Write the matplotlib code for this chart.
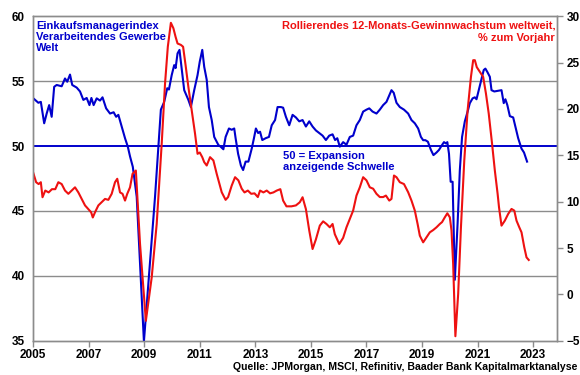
import numpy as np
import matplotlib.pyplot as plt

plt.rcParams['font.family'] = ['Liberation Sans', 'DejaVu Sans']

# Einkaufsmanagerindex (linke Achse), Zeit in Dezimaljahren
pmi_t = [2005.01, 2005.19, 2005.28, 2005.40, 2005.49, 2005.58, 2005.67, 2005.76, 2005.85,
         2006.03, 2006.15, 2006.23, 2006.33, 2006.41, 2006.57, 2006.69, 2006.81, 2006.93,
         2007.03, 2007.10, 2007.18, 2007.29, 2007.41, 2007.50, 2007.63, 2007.77, 2007.90,
         2007.99, 2008.07, 2008.19, 2008.31, 2008.41, 2008.49, 2008.59, 2008.73, 2008.99,
         2009.39, 2009.51, 2009.60, 2009.72, 2009.83, 2009.89, 2009.99, 2010.08, 2010.13,
         2010.20, 2010.27, 2010.35, 2010.44, 2010.59, 2010.68, 2010.80, 2010.92, 2011.00,
         2011.09, 2011.16, 2011.25, 2011.33, 2011.43, 2011.52, 2011.67, 2011.75, 2011.85,
         2011.93, 2012.05, 2012.15, 2012.24, 2012.29, 2012.38, 2012.48, 2012.56, 2012.65,
         2012.75, 2012.87, 2012.95, 2013.02, 2013.10, 2013.17, 2013.25, 2013.37, 2013.49,
         2013.59, 2013.71, 2013.80, 2013.92, 2014.00, 2014.10, 2014.22, 2014.34, 2014.46,
         2014.58, 2014.70, 2014.82, 2014.94, 2015.06, 2015.18, 2015.30, 2015.42, 2015.54,
         2015.66, 2015.78, 2015.87, 2015.95, 2016.04, 2016.16, 2016.28, 2016.40, 2016.52,
         2016.64, 2016.76, 2016.88, 2017.00, 2017.10, 2017.22, 2017.36, 2017.48, 2017.60,
         2017.72, 2017.82, 2017.90, 2017.98, 2018.08, 2018.20, 2018.35, 2018.50, 2018.62,
         2018.74, 2018.86, 2018.96, 2019.04, 2019.12, 2019.21, 2019.32, 2019.41, 2019.52,
         2019.61, 2019.72, 2019.79, 2019.86, 2019.91, 2019.97, 2020.03, 2020.10, 2020.18,
         2020.28, 2020.36, 2020.44, 2020.54, 2020.64, 2020.72, 2020.82, 2020.90, 2020.96,
         2021.04, 2021.14, 2021.22, 2021.28, 2021.35, 2021.44, 2021.50, 2021.60, 2021.72,
         2021.86, 2021.94, 2022.00, 2022.07, 2022.16, 2022.28, 2022.36, 2022.46, 2022.58,
         2022.67, 2022.78]
pmi = [53.67, 53.33, 53.4, 51.75, 52.5, 53.15, 52.25, 54.56, 54.7,
       54.6, 55.2, 54.95, 55.5, 54.7, 54.5, 54.2, 53.55, 53.7,
       53.15, 53.7, 53.15, 53.67, 53.5, 53.75, 52.9, 52.5, 52.6,
       52.25, 52.4, 51.5, 50.6, 49.95, 49.2, 48.4, 46.1, 34.95,
       46.1, 49.95, 52.8, 53.4, 54.45, 54.35, 55.46, 56.23, 56.0,
       57.13, 57.4, 55.97, 54.3, 53.55, 53.0, 54.3, 55.46, 56.5,
       57.4, 56.1, 55.1, 53.0, 52.0, 50.7, 50.08, 49.95, 49.75,
       50.7, 51.35, 51.25, 51.35, 50.6, 49.4, 48.5, 48.15, 48.8,
       48.8, 49.8, 50.6, 51.35, 51.0, 51.1, 50.46, 50.6, 50.7,
       51.6, 52.0, 53.0, 53.0, 52.95, 52.25, 51.6, 52.4, 52.2,
       51.9, 52.0, 51.5, 51.9, 51.5, 51.2, 51.0, 50.8, 50.46,
       50.8, 50.9, 50.46, 50.6, 49.95, 50.3, 50.1, 50.7, 50.8,
       51.6, 52.0, 52.65, 52.8, 52.9, 52.65, 52.5, 52.8, 53.15,
       53.4, 53.9, 54.3, 54.1, 53.33, 53.0, 52.8, 52.5, 52.0,
       51.75, 51.35, 50.7, 50.45, 50.45, 50.33, 49.7, 49.3, 49.5,
       49.7, 50.08, 50.3, 50.2, 50.3, 49.4, 47.25, 47.25, 39.7,
       44.05, 48.15, 50.7, 51.9, 52.65, 53.3, 53.67, 53.75, 53.6,
       54.3, 55.2, 55.85, 55.96, 55.7, 55.33, 54.3, 54.2, 54.25,
       54.3, 53.3, 53.6, 53.15, 52.3, 52.2, 51.5, 50.6, 49.8,
       49.5, 48.8]

# Gewinnwachstum in % (rechte Achse)
eps_t = [2005.00, 2005.11, 2005.20, 2005.28, 2005.34, 2005.44, 2005.56, 2005.68, 2005.80,
         2005.91, 2006.03, 2006.15, 2006.27, 2006.39, 2006.51, 2006.63, 2006.75, 2006.87,
         2006.99, 2007.09, 2007.15, 2007.23, 2007.35, 2007.47, 2007.59, 2007.71, 2007.83,
         2007.95, 2008.03, 2008.13, 2008.22, 2008.31, 2008.39, 2008.49, 2008.58, 2008.70,
         2008.85, 2009.06, 2009.27, 2009.45, 2009.51, 2009.63, 2009.75, 2009.85, 2009.96,
         2010.05, 2010.13, 2010.20, 2010.32, 2010.40, 2010.49, 2010.59, 2010.71, 2010.83,
         2010.92, 2011.00, 2011.09, 2011.16, 2011.25, 2011.37, 2011.49, 2011.61, 2011.79,
         2011.93, 2012.02, 2012.15, 2012.27, 2012.39, 2012.51, 2012.61, 2012.73, 2012.85,
         2012.97, 2013.09, 2013.17, 2013.29, 2013.41, 2013.53, 2013.65, 2013.77, 2013.90,
         2014.00, 2014.12, 2014.30, 2014.46, 2014.60, 2014.70, 2014.82, 2014.94, 2015.06,
         2015.18, 2015.32, 2015.44, 2015.56, 2015.68, 2015.78, 2015.86, 2016.02, 2016.16,
         2016.28, 2016.40, 2016.52, 2016.64, 2016.76, 2016.88, 2017.00, 2017.12, 2017.24,
         2017.36, 2017.48, 2017.60, 2017.70, 2017.82, 2017.90, 2017.99, 2018.08, 2018.20,
         2018.35, 2018.50, 2018.62, 2018.74, 2018.84, 2018.92, 2019.04, 2019.16, 2019.28,
         2019.40, 2019.52, 2019.64, 2019.72, 2019.82, 2019.91, 2020.00, 2020.06, 2020.12,
         2020.20, 2020.30, 2020.40, 2020.52, 2020.64, 2020.76, 2020.84, 2020.90, 2020.97,
         2021.08, 2021.20, 2021.30, 2021.40, 2021.52, 2021.62, 2021.72, 2021.77, 2021.86,
         2021.98, 2022.10, 2022.22, 2022.32, 2022.40, 2022.50, 2022.58, 2022.68, 2022.76,
         2022.84]
eps = [13.18, 12.1, 11.9, 12.1, 10.48, 11.2, 11.0, 11.35, 11.35,
       12.1, 11.9, 11.2, 10.85, 11.2, 11.55, 11.0, 10.3, 9.6,
       9.2, 8.86, 8.3, 8.86, 9.6, 9.95, 10.3, 10.2, 10.85,
       12.1, 12.47, 11.0, 10.85, 10.12, 10.85, 11.55, 13.0, 13.36,
       5.44, -2.84, 1.84, 7.6, 10.48, 16.25, 22.73, 26.7, 29.28,
       28.7, 27.76, 27.05, 26.9, 26.7, 24.7, 22.36, 19.85, 17.33,
       15.16, 15.3, 14.8, 14.26, 13.9, 14.8, 14.45, 13.0, 11.02,
       10.2, 10.5, 11.74, 12.64, 12.3, 11.4, 11.0, 11.2, 10.85,
       10.9, 10.5, 11.2, 11.0, 11.2, 10.9, 11.0, 11.2, 11.35,
       10.12, 9.5, 9.5, 9.6, 9.94, 10.48, 9.2, 6.9, 4.9,
       5.94, 7.42, 7.88, 7.6, 7.24, 7.6, 6.5, 5.44, 6.1,
       7.24, 8.15, 9.04, 10.66, 11.55, 12.64, 12.3, 11.55, 11.4,
       10.85, 10.5, 10.5, 10.66, 10.12, 10.3, 12.82, 12.64, 12.1,
       11.9, 11.02, 10.12, 9.04, 7.6, 6.34, 5.62, 6.16, 6.7,
       6.94, 7.24, 7.6, 7.8, 8.32, 8.75, 8.32, 6.9, 3.28,
       -4.5, 0.04, 7.24, 14.45, 19.85, 23.45, 25.25, 25.25, 24.5,
       24.0, 23.45, 21.65, 19.5, 16.25, 13.36, 10.85, 9.4, 7.42,
       7.96, 8.68, 9.22, 9.04, 7.96, 7.24, 6.7, 5.08, 4.0,
       3.72]

years = [2005, 2007, 2009, 2011, 2013, 2015, 2017, 2019, 2021, 2023]

BLUE = '#0000CC'
RED = '#EE1111'
GRID = '#8C8C8C'

fig = plt.figure(figsize=(5.8, 3.75), dpi=100)
ax = fig.add_axes([0.057, 0.091, 0.903, 0.866])
ax2 = ax.twinx()

ax.plot(pmi_t, pmi, color=BLUE, lw=1.5, zorder=3)
ax.axhline(50, color=BLUE, lw=1.4, zorder=2)
for v in [45, 40, 55]:
    ax.axhline(v, color=GRID, lw=1.0, zorder=1)
ax2.plot(eps_t, eps, color=RED, lw=1.5)

ax.set_xlim(2005, 2023.85)
ax.set_ylim(35, 60)
ax2.set_ylim(-5, 30)
ax.set_xticks(years)
ax.set_yticks(np.arange(35, 61, 5))
ax2.set_yticks(np.arange(-5, 31, 5))

for a in (ax, ax2):
    for s in a.spines.values():
        s.set_color(GRID)
        s.set_linewidth(1.0)
    a.tick_params(colors='black', labelsize=8.5, length=4, width=1.0, direction='out')
    a.tick_params(axis='both', color=GRID)
    for lab in a.get_xticklabels() + a.get_yticklabels():
        lab.set_fontweight('bold')
ax.tick_params(axis='y', length=0, pad=6)
ax.tick_params(axis='x', pad=2)
ax2.tick_params(axis='y', pad=3)

ax.text(0.006, 0.985, 'Einkaufsmanagerindex\nVerarbeitendes Gewerbe\nWelt',
        transform=ax.transAxes, ha='left', va='top', color=BLUE,
        fontsize=8, fontweight='bold', linespacing=1.15)
ax.text(0.997, 0.985, 'Rollierendes 12-Monats-Gewinnwachstum weltweit,\n% zum Vorjahr',
        transform=ax.transAxes, ha='right', va='top', color=RED,
        fontsize=8, fontweight='bold', linespacing=1.2, multialignment='right')
ax.text(2014.0, 49.6, '50 = Expansion\nanzeigende Schwelle', ha='left', va='top',
        color=BLUE, fontsize=8, fontweight='bold', linespacing=1.15)
fig.text(0.995, 0.008, 'Quelle: JPMorgan, MSCI, Refinitiv, Baader Bank Kapitalmarktanalyse',
         ha='right', va='bottom', fontsize=7.6, fontweight='bold')

fig.savefig('out.png', dpi=100)
